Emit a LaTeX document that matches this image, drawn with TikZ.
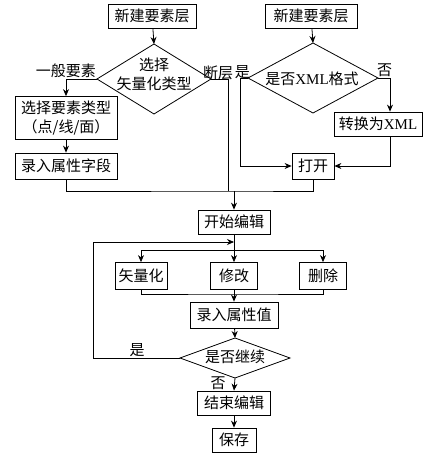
\documentclass[tikz,border=0pt]{standalone}
\usepackage{fontspec}
\setmainfont{Liberation Serif}
\newfontfamily\cjk{Noto Sans CJK SC}
\usetikzlibrary{arrows.meta,shapes.geometric,positioning,calc}

\begin{document}
\begin{tikzpicture}[x=1pt,y=-1pt,
    every node/.style={font=\cjk\fontsize{15}{19}\selectfont},
    box/.style={draw,line width=0.8pt,inner sep=0pt,align=center,minimum height=24pt},
    dia/.style={draw,line width=0.8pt,diamond,inner sep=0pt,outer sep=0pt},
    line/.style={line width=0.8pt},
    arr/.style={line width=0.8pt,-{Stealth[length=7pt,width=6pt]}}]
\useasboundingbox (0,0) rectangle (433,458);

% left column: new layer
\node[box,minimum width=88pt] (new1) at (152,16) {新建要素层};
\node[dia,minimum width=114pt,minimum height=70pt] (d1) at (154,79) {};
\node[align=center,inner sep=0pt] (d1t) at (154,74) {选择\\矢量化类型};
\node[box,minimum width=102pt,minimum height=43pt] (sel) at (66,118) {选择要素类型\\（点/线/面）};
\node[box,minimum width=102pt,minimum height=26pt] (attr) at (66,166) {录入属性字段};
\node[anchor=south east,inner sep=1pt] (lab1) at (d1.west) {一般要素};
\node[anchor=south west,inner sep=0pt,xshift=-8pt,yshift=-1pt] (lab2) at (d1.east) {断层};

% right column: open existing layer
\node[box,minimum width=92pt] (new2) at (311,16) {新建要素层};
\node[dia,minimum width=130pt,minimum height=70pt] (d2) at (313,78) {};
\node[inner sep=0pt] (d2t) at (312,79) {是否{\rmfamily XML}格式};
\node[box,minimum width=88pt] (xml) at (378,124) {转换为{\rmfamily XML}};
\node[box,minimum width=42pt,minimum height=26pt] (open) at (313,166) {打开};
\node[anchor=south east,inner sep=0pt,xshift=2pt,yshift=-1pt] (lab3) at (d2.west) {是};
\node[anchor=south west,inner sep=1pt,xshift=-2pt] (lab4) at (d2.east) {否};

% editing
\node[box,minimum width=72pt] (start) at (234,222) {开始编辑};
\node[box,minimum width=52pt,minimum height=27pt] (vec) at (141,276) {矢量化};
\node[box,minimum width=47pt,minimum height=27pt] (mod) at (234,276) {修改};
\node[box,minimum width=47pt,minimum height=27pt] (del) at (323,276) {删除};
\node[box,minimum width=88pt,minimum height=26pt] (val) at (234,315) {录入属性值};
\node[dia,minimum width=110pt,minimum height=40pt] (d3) at (235,358) {};
\node[inner sep=0pt] (d3t) at (235,357) {是否继续};
\node[box,minimum width=73pt] (stop) at (234,403) {结束编辑};
\node[box,minimum width=44pt] (save) at (234,440) {保存};
\node[inner sep=0pt] (lab5) at (137,350) {是};
\node[inner sep=0pt] (lab6) at (218,383) {否};

\coordinate (m) at (234,191);
\coordinate (loop) at (234,242);
\coordinate (br) at (234,250);
\coordinate (jn) at (234,294);

% connectors
\draw[arr] (new1) -- (d1.north);
\draw[arr] (d1.west) -| (sel.north);
\draw[arr] (sel) -- (attr);
\draw[line] (attr.south) |- (m) -| (open.south);
\draw[line] (d1.east) -| (m -| 228,0);
\draw[arr] (new2) -- (d2.north);
\draw[arr] (d2.west) -- ++(-8,0) |- (open.west);
\draw[arr] (d2.east) -- ++(12,0) coordinate (c) -- (c |- xml.north);
\draw[arr] (c |- xml.south) |- (open.east);
\draw[arr] (m) -- (start.north);
\draw[line] (start.south) -- (br);
\draw[arr] (br) -| (vec.north);
\draw[arr] (br) -- (mod.north);
\draw[arr] (br) -| (del.north);
\draw[line] (vec.south) |- (jn) -| (del.south);
\draw[line] (mod.south) -- (jn);
\draw[arr] (jn) -- (val.north);
\draw[arr] (val) -- (d3.north);
\draw[arr] (d3.west) -- ++(-87,0) |- (loop);
\draw[arr] (d3.south) -- (stop.north);
\draw[arr] (stop) -- (save);
\end{tikzpicture}
\end{document}
